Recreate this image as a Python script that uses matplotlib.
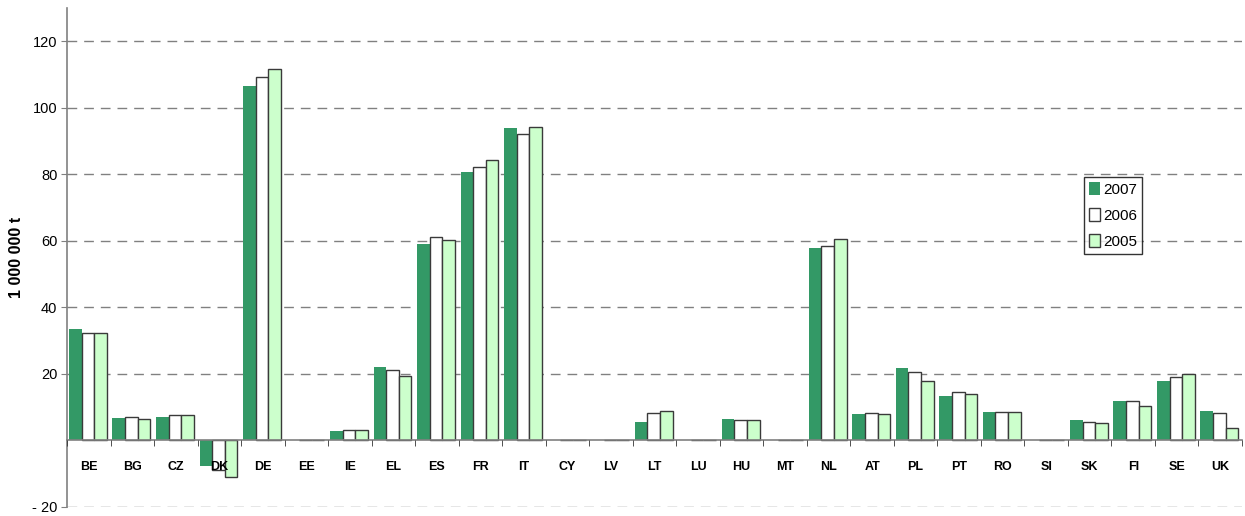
import numpy as np
import matplotlib
matplotlib.use("Agg")
import matplotlib.pyplot as plt

plt.rcParams["font.family"] = ["Liberation Sans", "DejaVu Sans"]

countries = ["BE", "BG", "CZ", "DK", "DE", "EE", "IE", "EL", "ES", "FR", "IT", "CY", "LV",
             "LT", "LU", "HU", "MT", "NL", "AT", "PL", "PT", "RO", "SI", "SK", "FI", "SE", "UK"]
v2007 = [33.4, 6.9, 7.2, -7.7, 106.5, 0, 2.7, 22.0, 59.2, 80.6, 93.8, 0, 0,
         5.7, 0, 6.6, 0, 58.0, 8.1, 21.7, 13.5, 8.7, 0, 6.3, 12.0, 18.0, 9.0]
v2006 = [32.4, 7.0, 7.7, -9.0, 109.2, 0, 3.2, 21.3, 61.3, 82.2, 92.0, 0, 0,
         8.3, 0, 6.1, 0, 58.6, 8.3, 20.6, 14.6, 8.6, 0, 5.6, 12.0, 19.1, 8.3]
v2005 = [32.4, 6.4, 7.7, -11.1, 111.6, 0, 3.2, 19.5, 60.2, 84.3, 94.1, 0, 0,
         8.9, 0, 6.1, 0, 60.7, 8.0, 18.0, 14.1, 8.6, 0, 5.3, 10.4, 19.9, 3.8]
years = ["2007", "2006", "2005"]
yticks = [-20, 20, 40, 60, 80, 100, 120]
ytick_labels = ["- 20", "20", "40", "60", "80", "100", "120"]

fig = plt.figure(figsize=(12.45, 5.16), dpi=100)
ax = fig.add_axes([67 / 1245, 9 / 516, 1175 / 1245, 499 / 516])
ax.set_axisbelow(False)

x = np.arange(len(countries))
w = 0.29
styles = [
    dict(color="#339966", edgecolor="#339966", linewidth=0),
    dict(color="white", edgecolor="#3a3a3a", linewidth=1.0),
    dict(color="#CCFFCC", edgecolor="#3a3a3a", linewidth=1.0),
]
for i, (vals, st) in enumerate(zip([v2007, v2006, v2005], styles)):
    ax.bar(x + (i - 1) * w - 0.02, vals, width=w, label=years[i], zorder=2, **st)

ax.set_xlim(-0.5, len(countries) - 0.5)
ax.set_ylim(-20, 130)

# dashed grid lines
for yv in yticks:
    ax.axhline(yv, color="#808080", linestyle=(0, (7, 5)), linewidth=1.0, zorder=1)

ax.set_yticks(yticks)
ax.set_yticklabels(ytick_labels, fontsize=10.5)
ax.tick_params(axis="y", direction="out", length=4, color="#808080", pad=3)

ax.spines["bottom"].set_position(("data", 0))
ax.spines["bottom"].set_color("#808080")
ax.spines["bottom"].set_linewidth(1.2)
ax.spines["left"].set_color("#808080")
ax.spines["left"].set_linewidth(1.2)
ax.spines["top"].set_visible(False)
ax.spines["right"].set_visible(False)

ax.set_xticks(x)
ax.set_xticklabels(countries, fontsize=9, fontweight="bold")
ax.set_xticks(np.arange(len(countries) + 1) - 0.5, minor=True)
ax.tick_params(axis="x", which="major", length=0, pad=15)
ax.tick_params(axis="x", which="minor", direction="out", length=4, color="#333333")

ax.set_ylabel("1 000 000 t", fontsize=11.5, fontweight="bold", labelpad=6)

leg = ax.legend(loc="upper left", bbox_to_anchor=((1084 - 67) / 1175, (508 - 178) / 499),
                fontsize=11, frameon=True, fancybox=False, handlelength=0.7, handleheight=0.9,
                handletextpad=0.2, borderpad=0.35, labelspacing=0.75, borderaxespad=0)
leg.get_frame().set_edgecolor("black")
leg.get_frame().set_linewidth(1.0)

fig.savefig("out.png", dpi=100)
